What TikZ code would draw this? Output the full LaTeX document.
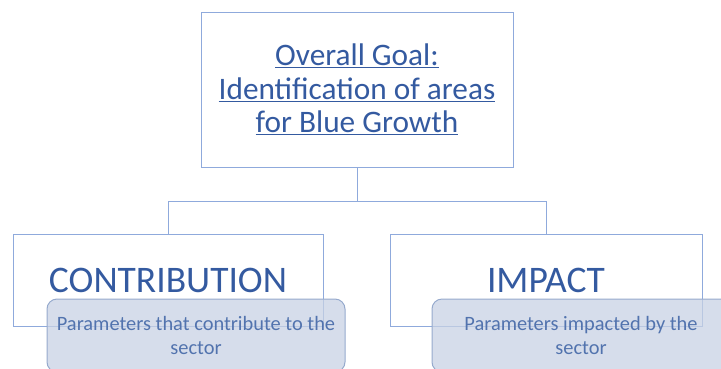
\documentclass[tikz,border=0pt]{standalone}
\usepackage{fontspec}
\setmainfont{Carlito}
\usepackage{tikz}
\usetikzlibrary{positioning,calc}
\definecolor{txtblue}{RGB}{52,90,160}
\definecolor{lineblue}{RGB}{143,170,220}
\definecolor{notefill}{RGB}{200,210,228}
\definecolor{noteline}{RGB}{150,170,205}

\begin{document}
\begin{tikzpicture}[x=1pt,y=-1pt,
		box/.style={draw=lineblue,line width=1pt,text=txtblue,align=center},
		notebox/.style={draw=noteline,line width=1pt,fill=notefill,fill opacity=.75,text opacity=1,
			rounded corners=10pt,text=txtblue!85,align=center,minimum width=298pt,minimum height=73pt,
			font=\fontsize{20.4}{23.5}\selectfont},
		link/.style={draw=lineblue,line width=1pt}]
		\useasboundingbox (0,0) rectangle (721,368);
		\clip (0,0) rectangle (721,368);
		
		\node[box,minimum width=312pt,minimum height=155pt,font=\fontsize{31.3}{33.5}\selectfont]
			(goal) at (357,89.5) {\underline{Overall Goal:}\\\underline{Identification of areas}\\\underline{for Blue Growth}};
		
		\node[box,minimum width=310pt,minimum height=92pt,font=\fontsize{37.5}{40}\selectfont]
			(contrib) at (168,280) {CONTRIBUTION};
		\node[box,minimum width=312pt,minimum height=92pt,font=\fontsize{37.5}{40}\selectfont]
			(impact) at (546,280) {IMPACT};
		
		% connectors
		\draw[link] (goal.south) -- ++(0,34) coordinate (fork);
		\draw[link] (fork) -| (contrib.north);
		\draw[link] (fork) -| (impact.north);
		
		\node[notebox] (contribnote) at (196,335.5) {Parameters that contribute to the\\sector};
		\node[notebox] (impactnote) at (581,335.5) {Parameters impacted by the\\sector};
\end{tikzpicture}
\end{document}
